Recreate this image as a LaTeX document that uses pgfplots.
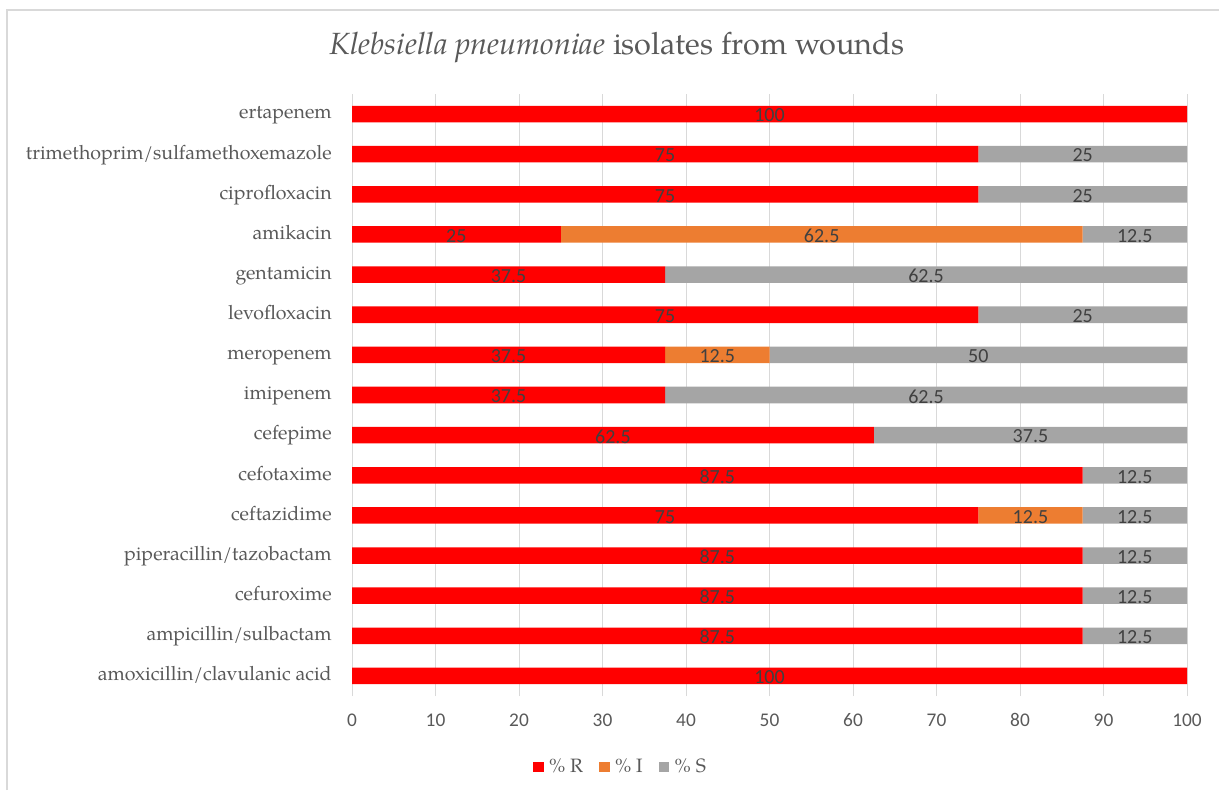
\documentclass[border=0pt]{standalone}
\usepackage{pgfplots}
\pgfplotsset{compat=1.18}
\usepackage{fontspec}
\setmainfont{texgyrepagella}[Extension=.otf, UprightFont=*-regular, ItalicFont=*-italic, BoldFont=*-bold, BoldItalicFont=*-bolditalic]
\newfontfamily\carlito{Carlito}
\definecolor{cR}{HTML}{FF0000}
\definecolor{cI}{HTML}{ED7D31}
\definecolor{cS}{HTML}{A5A5A5}
\definecolor{txt}{HTML}{595959}
\definecolor{lbl}{HTML}{404040}
\definecolor{frm}{HTML}{D9D9D9}
\begin{document}
\begin{tikzpicture}
\useasboundingbox (0,0) rectangle (914.25pt,592.5pt);
\draw[frm, line width=1.5pt] (5.6pt,0pt) -- (5.6pt,585pt) -- (914.25pt,585pt);
\node[text=txt, font=\fontsize{23}{27}\selectfont] at (462.75pt,557.25pt) {\textit{Klebsiella pneumoniae} isolates from wounds};
\begin{axis}[
  at={(264pt,70.5pt)}, anchor=south west,
  width=626.25pt, height=451.5pt, scale only axis,
  xbar stacked, bar width=12.4pt,
  xmin=0, xmax=100, ymin=-0.5, ymax=14.5,
  xtick={0,10,...,100},
  ytick={0,...,14},
  yticklabels={amoxicillin/clavulanic acid, ampicillin/sulbactam, cefuroxime, piperacillin/tazobactam, ceftazidime, cefotaxime, cefepime, imipenem, meropenem, levofloxacin, gentamicin, amikacin, ciprofloxacin, trimethoprim/sulfamethoxemazole, ertapenem},
  axis line style={draw=none},
  xmajorgrids, grid style={draw=frm, line width=0.75pt},
  tick style={draw=none},
  /pgf/number format/assume math mode=true,
  xticklabel style={font=\carlito\fontsize{14.5}{17}\selectfont, text=txt, inner sep=0pt, yshift=-13pt},
  yticklabel style={font=\fontsize{14.7}{17}\selectfont, text=txt, inner sep=0pt, anchor=base east, xshift=-15pt, yshift=-3.6pt},
  point meta=explicit symbolic,
  nodes near coords,
  every node near coord/.append style={anchor=center, font=\carlito\fontsize{15}{17}\selectfont, text=lbl, yshift=-1pt},
  legend style={at={(0.322,-0.118)}, anchor=center, draw=none, legend columns=3, font=\fontsize{14.5}{17}\selectfont, text=txt, /tikz/every odd column/.append style={column sep=2pt}, /tikz/every even column/.append style={column sep=10pt}},
  legend image code/.code={\fill[#1] (0pt,-4pt) rectangle (8pt,4pt);},
]
\addplot[fill=cR, draw=none] coordinates {
(100,0) [100] (87.5,1) [87.5] (87.5,2) [87.5] (87.5,3) [87.5] (75,4) [75] (87.5,5) [87.5] (62.5,6) [62.5] (37.5,7) [37.5] (37.5,8) [37.5] (75,9) [75] (37.5,10) [37.5] (25,11) [25] (75,12) [75] (75,13) [75] (100,14) [100]};
\addplot[fill=cI, draw=none] coordinates {
(0,0) [] (0,1) [] (0,2) [] (0,3) [] (12.5,4) [12.5] (0,5) [] (0,6) [] (0,7) [] (12.5,8) [12.5] (0,9) [] (0,10) [] (62.5,11) [62.5] (0,12) [] (0,13) [] (0,14) []};
\addplot[fill=cS, draw=none] coordinates {
(0,0) [] (12.5,1) [12.5] (12.5,2) [12.5] (12.5,3) [12.5] (12.5,4) [12.5] (12.5,5) [12.5] (37.5,6) [37.5] (62.5,7) [62.5] (50,8) [50] (25,9) [25] (62.5,10) [62.5] (12.5,11) [12.5] (25,12) [25] (25,13) [25] (0,14) []};
\legend{\% R, \% I, \% S}
\end{axis}
\end{tikzpicture}
\end{document}
